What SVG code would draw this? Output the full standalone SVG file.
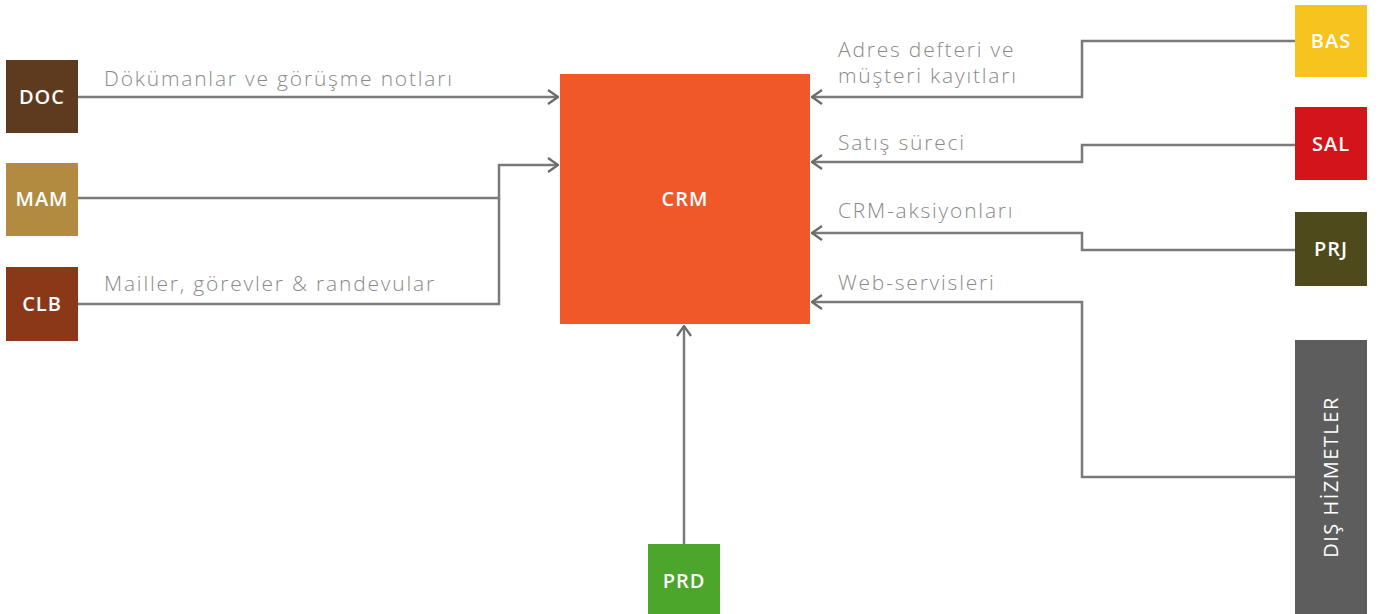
<svg xmlns="http://www.w3.org/2000/svg" width="1379" height="614" viewBox="0 0 1379 614">
<style>
.lbl{font-family:"Open Sans","Liberation Sans",sans-serif;font-size:21px;font-weight:300;letter-spacing:1.8px;fill:#8a8a8a}
.nd{font-family:"Open Sans","Liberation Sans",sans-serif;font-size:20px;font-weight:600;letter-spacing:1px;fill:#ffffff;text-anchor:middle}
.vt{font-family:"Open Sans","Liberation Sans",sans-serif;font-size:20px;font-weight:400;letter-spacing:1.5px;fill:#ffffff;text-anchor:middle}
.c{fill:none;stroke:#7a7a7a;stroke-width:2.5}
</style>
<defs>
<marker id="ah" viewBox="0 0 12 16" refX="11" refY="8" markerWidth="12" markerHeight="16" markerUnits="userSpaceOnUse" orient="auto">
<path d="M1,1 L11,8 L1,15" fill="none" stroke="#6a6a6a" stroke-width="2.2"/>
</marker>
</defs>
<rect width="1379" height="614" fill="#ffffff"/>
<g id="connectors">
<path class="c" d="M78,97 H558" marker-end="url(#ah)"/>
<path class="c" d="M78,198 H499 V165 H558" marker-end="url(#ah)"/>
<path class="c" d="M78,304 H499 V198"/>
<path class="c" d="M1295,41 H1082 V97 H812" marker-end="url(#ah)"/>
<path class="c" d="M1295,145 H1082 V162 H812" marker-end="url(#ah)"/>
<path class="c" d="M1295,250 H1082 V233 H812" marker-end="url(#ah)"/>
<path class="c" d="M1295,477 H1082 V302 H812" marker-end="url(#ah)"/>
<path class="c" d="M684,544 V326" marker-end="url(#ah)"/>
<text class="lbl" x="104" y="86">Dökümanlar ve görüşme notları</text>
<text class="lbl" x="104" y="291">Mailler, görevler &amp; randevular</text>
<text class="lbl" x="838" y="57">Adres defteri ve</text>
<text class="lbl" x="838" y="83">müşteri kayıtları</text>
<text class="lbl" x="838" y="150">Satış süreci</text>
<text class="lbl" x="838" y="218">CRM-aksiyonları</text>
<text class="lbl" x="838" y="290">Web-servisleri</text>
</g>
<g id="DOC"><rect x="6" y="60" width="72" height="73" fill="#5e3b1f"/><text class="nd" x="42" y="104">DOC</text></g>
<g id="MAM"><rect x="6" y="163" width="72" height="73" fill="#b38b40"/><text class="nd" x="42" y="206">MAM</text></g>
<g id="CLB"><rect x="6" y="267" width="72" height="74" fill="#8a3818"/><text class="nd" x="42" y="311">CLB</text></g>
<g id="CRM"><rect x="560" y="74" width="250" height="250" fill="#f0582a"/><text class="nd" x="685" y="206">CRM</text></g>
<g id="BAS"><rect x="1295" y="5" width="72" height="72" fill="#f7c31e"/><text class="nd" x="1331" y="48">BAS</text></g>
<g id="SAL"><rect x="1295" y="107" width="72" height="73" fill="#d3141b"/><text class="nd" x="1331" y="151">SAL</text></g>
<g id="PRJ"><rect x="1295" y="212" width="72" height="74" fill="#4e4a1c"/><text class="nd" x="1331" y="256">PRJ</text></g>
<g id="DIS"><rect x="1295" y="340" width="72" height="274" fill="#5d5d5d"/><text class="vt" transform="translate(1338,477) rotate(-90)">DIŞ HİZMETLER</text></g>
<g id="PRD"><rect x="648" y="544" width="72" height="70" fill="#4ba62b"/><text class="nd" x="684" y="588">PRD</text></g>
</svg>
